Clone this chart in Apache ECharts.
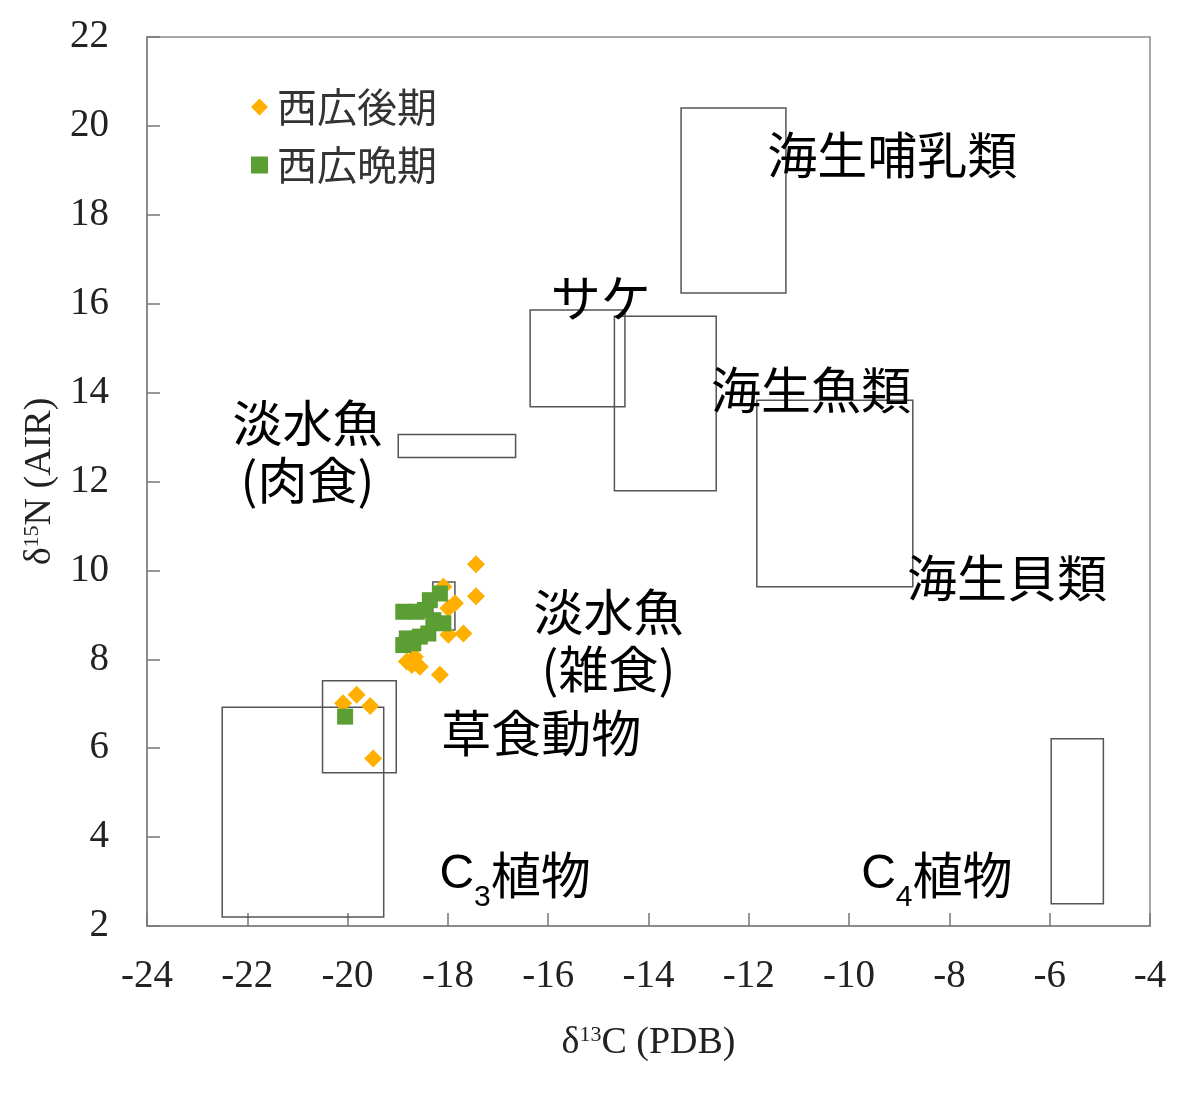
<!DOCTYPE html>
<html>
<head>
<meta charset="utf-8">
<script src="https://cdn.jsdelivr.net/npm/echarts@6/dist/echarts.min.js"></script>
<style>
  html,body{margin:0;padding:0;background:#fff;}
  #main{width:1180px;height:1107px;}
</style>
</head>
<body>
<div id="main"></div>
<script>
"use strict";

// 西広後期 (δ13C, δ15N)
var lateX=[-17.44,-17.44,-18.09,-17.86,-17.99,-17.69,-17.99,-18.82,-18.66,-18.56,-18.72,-18.16,-20.09,-19.82,-19.55,-19.49];
var lateY=[10.14,9.42,9.63,9.26,9.15,8.58,8.55,7.95,8.06,7.83,7.87,7.65,7.01,7.20,6.95,5.77];
// 西広晩期
var finalX=[-18.16,-18.36,-18.89,-18.62,-18.46,-18.29,-18.09,-18.82,-18.56,-18.39,-18.89,-18.69,-20.05];
var finalY=[9.48,9.33,9.07,9.07,9.11,8.88,8.81,8.47,8.51,8.58,8.32,8.36,6.71];

// reference ranges: [xmin, xmax, ymin, ymax]
var rangeNames=['C3植物','草食動物','淡水魚(雑食)','淡水魚(肉食)','サケ','海生魚類','海生哺乳類','海生貝類','C4植物'];
var rangeBoxes=[
  [-22.5,-19.28,2.2,6.92],
  [-20.5,-19.03,5.45,7.52],
  [-18.3,-17.86,8.66,9.74],
  [-18.99,-16.65,12.54,13.06],
  [-16.36,-14.47,13.68,15.86],
  [-14.68,-12.65,11.79,15.72],
  [-13.35,-11.26,16.24,20.4],
  [-11.84,-8.73,9.63,13.83],
  [-5.97,-4.93,2.5,6.21]
];

// annotation texts and where they sit (data coords, text centre)
var noteText=['海生哺乳類','サケ','海生魚類','淡水魚\n(肉食)','海生貝類','淡水魚\n(雑食)','草食動物','C3植物','C4植物'];
var noteX=[-9.14,-14.95,-10.76,-20.8,-6.85,-14.8,-16.14,-16.66,-8.25];
var noteY=[19.35,16.13,14.06,12.67,9.83,8.43,6.34,3.15,3.15];

var xMin=-24, xMax=-4, xStep=2;
var yMin=2, yMax=22, yStep=2;

function zip(a,b){
  var out=[];
  for (var i=0;i<a.length;i++) out.push([a[i],b[i]]);
  return out;
}

var CJK='"Noto Sans CJK JP", "Noto Sans", sans-serif';
var SERIF='"Liberation Serif", "DejaVu Serif", serif';
var SANS='"Liberation Sans Narrow", "Liberation Sans", Arial, sans-serif';

var chart=echarts.init(document.getElementById('main'),null,{renderer:'canvas'});

var noteData=noteText.map(function(t,i){ return {value:[noteX[i],noteY[i]],name:t}; });

var option={
  animation:false,
  backgroundColor:'#fff',
  grid:{left:147,right:30,top:37,bottom:181,show:true,borderColor:'#8c8c8c',borderWidth:1.5,containLabel:false},
  legend:{
    orient:'vertical',left:246,top:82,itemWidth:17,itemHeight:17,itemGap:18,
    textStyle:{fontFamily:CJK,fontSize:40,color:'#333',padding:[0,0,0,4]},
    data:[{name:'西広後期',icon:'diamond'},{name:'西広晩期',icon:'rect'}]
  },
  xAxis:{
    type:'value',min:xMin,max:xMax,interval:xStep,
    name:'{n|δ}{sup|13}{n|C (PDB)}',nameLocation:'middle',nameGap:98,
    nameTextStyle:{rich:{
      n:{fontFamily:SERIF,fontSize:38,color:'#222'},
      sup:{fontFamily:SERIF,fontSize:22,color:'#222',padding:[0,0,16,0]}
    }},
    splitLine:{show:false},
    axisLine:{show:true,onZero:false,lineStyle:{color:'#8c8c8c',width:2}},
    axisTick:{show:true,inside:true,length:13,lineStyle:{color:'#777',width:1.5}},
    axisLabel:{margin:31,fontFamily:SERIF,fontSize:39,color:'#222'}
  },
  yAxis:{
    type:'value',min:yMin,max:yMax,interval:yStep,
    name:'{n|δ}{sup|15}{n|N (AIR)}',nameLocation:'middle',nameGap:88,nameRotate:90,
    nameTextStyle:{rich:{
      n:{fontFamily:SERIF,fontSize:38,color:'#222'},
      sup:{fontFamily:SERIF,fontSize:22,color:'#222',padding:[0,0,16,0]}
    }},
    splitLine:{show:false},
    axisLine:{show:true,onZero:false,lineStyle:{color:'#8c8c8c',width:2}},
    axisTick:{show:true,inside:true,length:13,lineStyle:{color:'#777',width:1.5}},
    axisLabel:{margin:38,fontFamily:SERIF,fontSize:39,color:'#222'}
  },
  series:[
    {
      name:'ranges',type:'custom',silent:true,z:1,
      data:rangeBoxes,
      encode:{x:[0,1],y:[2,3]},
      renderItem:function(params,api){
        var p1=api.coord([api.value(0),api.value(3)]);
        var p2=api.coord([api.value(1),api.value(2)]);
        return {
          type:'rect',
          shape:{x:p1[0],y:p1[1],width:p2[0]-p1[0],height:p2[1]-p1[1]},
          style:{fill:null,stroke:'#555',lineWidth:1.5}
        };
      }
    },
    {
      name:'notes',type:'scatter',silent:true,z:2,symbolSize:0,
      itemStyle:{opacity:1},
      data:noteData,
      label:{
        show:true,position:'inside',
        fontFamily:CJK,fontSize:50,color:'#000',lineHeight:57,
        formatter:function(p){
          var m=/^C(\d)(.*)$/.exec(p.name);
          if (m) return '{c|C}{s|'+m[1]+'}{t|'+m[2]+'}';
          return p.name;
        },
        rich:{
          c:{fontFamily:SANS,fontSize:48,color:'#000',lineHeight:57},
          s:{fontFamily:SANS,fontSize:30,color:'#000',padding:[46,0,0,0]},
          t:{fontFamily:CJK,fontSize:50,color:'#000',lineHeight:57}
        }
      }
    },
    {
      name:'西広後期',type:'scatter',symbol:'diamond',symbolSize:18,z:3,
      itemStyle:{color:'#FFAF00',opacity:1},
      data:zip(lateX,lateY)
    },
    {
      name:'西広晩期',type:'scatter',symbol:'rect',symbolSize:16,z:4,
      itemStyle:{color:'#5B9E34',opacity:1},
      data:zip(finalX,finalY)
    }
  ]
};

chart.setOption(option);
</script>
</body>
</html>
